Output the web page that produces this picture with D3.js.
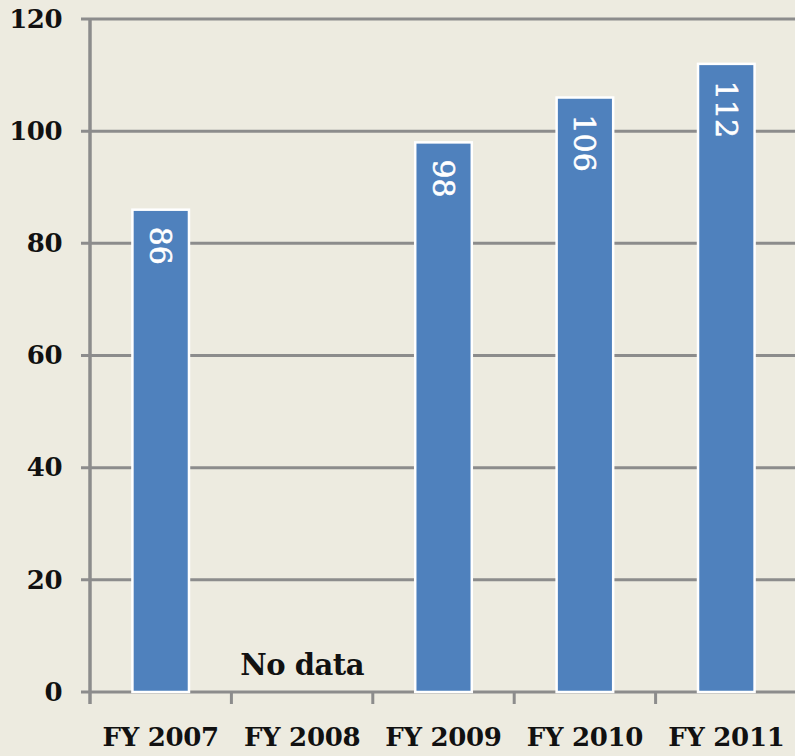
<!DOCTYPE html>
<html>
<head>
<meta charset="utf-8">
<script src="https://cdn.jsdelivr.net/npm/d3@7"></script>
<style>
  html, body { margin: 0; padding: 0; background: #edebe0; }
  svg { display: block; }
  text { font-family: "DejaVu Serif", "Liberation Serif", serif; }
</style>
</head>
<body>
<svg id="chart" width="795" height="756"></svg>
<script>
// Fiscal years and their values (FY 2008 has no figure)
const categories = ["FY 2007", "FY 2008", "FY 2009", "FY 2010", "FY 2011"];
const values = [86, null, 98, 106, 112];
const yTicks = [0, 20, 40, 60, 80, 100, 120];
const noDataLabel = "No data";

const W = 795, H = 756;
const plot = { left: 90, right: 797, top: 19, bottom: 692 };

const svg = d3.select("#chart");

const x = d3.scaleBand()
  .domain(categories)
  .range([plot.left, plot.right])
  .paddingInner(0.6)
  .paddingOuter(0.3);

const y = d3.scaleLinear()
  .domain([0, 120])
  .range([plot.bottom, plot.top]);

const gridColor = "#8c8c8c";

// horizontal gridlines (with short ticks left of the axis)
svg.append("g")
  .selectAll("line")
  .data(yTicks)
  .join("line")
  .attr("x1", plot.left - 9)
  .attr("x2", W)
  .attr("y1", d => y(d))
  .attr("y2", d => y(d))
  .attr("stroke", gridColor)
  .attr("stroke-width", 3);

// y axis labels
const yAxis = d3.axisLeft(y).tickValues(yTicks).tickSize(0).tickPadding(28);
const gy = svg.append("g")
  .attr("transform", `translate(${plot.left},0)`)
  .call(yAxis);
gy.select(".domain").remove();
gy.selectAll("text")
  .attr("font-family", "DejaVu Serif")
  .attr("font-weight", "bold")
  .attr("font-size", 26)
  .attr("fill", "#111")
  .attr("letter-spacing", -0.5);

// vertical axis line
svg.append("line")
  .attr("x1", plot.left).attr("x2", plot.left)
  .attr("y1", plot.top).attr("y2", plot.bottom + 12)
  .attr("stroke", gridColor)
  .attr("stroke-width", 3.5);

// category boundary ticks below the baseline
const step = x.step();
const gap = step - x.bandwidth();
const boundaries = categories.slice(1).map(c => x(c) - gap / 2);
svg.append("g")
  .selectAll("line")
  .data(boundaries)
  .join("line")
  .attr("x1", d => d).attr("x2", d => d)
  .attr("y1", plot.bottom).attr("y2", plot.bottom + 12)
  .attr("stroke", gridColor)
  .attr("stroke-width", 3);

// x axis labels
const xAxis = d3.axisBottom(x).tickSize(0).tickPadding(36);
const gx = svg.append("g")
  .attr("transform", `translate(0,${plot.bottom})`)
  .call(xAxis);
gx.select(".domain").remove();
gx.selectAll("text")
  .attr("font-family", "DejaVu Serif")
  .attr("font-weight", "bold")
  .attr("font-size", 26)
  .attr("fill", "#111")
  .attr("letter-spacing", -0.3);

// bars
const data = categories.map((c, i) => ({ c, v: values[i] }));
svg.append("g")
  .selectAll("rect")
  .data(data.filter(d => d.v != null))
  .join("rect")
  .attr("x", d => x(d.c))
  .attr("y", d => y(d.v))
  .attr("width", x.bandwidth())
  .attr("height", d => y(0) - y(d.v))
  .attr("fill", "#4f81bd")
  .attr("stroke", "#ffffff")
  .attr("stroke-width", 2.5);

// value labels, rotated to read top-down inside each bar
svg.append("g")
  .selectAll("text")
  .data(data.filter(d => d.v != null))
  .join("text")
  .attr("transform", d => `translate(${x(d.c) + x.bandwidth() / 2},${y(d.v) + 17}) rotate(90)`)
  .attr("dy", "0.35em")
  .attr("text-anchor", "start")
  .attr("font-size", 30)
  .attr("fill", "#ffffff")
  .attr("stroke", "#ffffff")
  .attr("stroke-width", 0.6)
  .text(d => d.v);

// note for the missing year
const missing = data.find(d => d.v == null);
svg.append("text")
  .attr("x", x(missing.c) + x.bandwidth() / 2)
  .attr("y", 675)
  .attr("text-anchor", "middle")
  .attr("font-weight", "bold")
  .attr("font-size", 29)
  .attr("fill", "#111")
  .attr("letter-spacing", -0.5)
  .text(noDataLabel);
</script>
</body>
</html>
